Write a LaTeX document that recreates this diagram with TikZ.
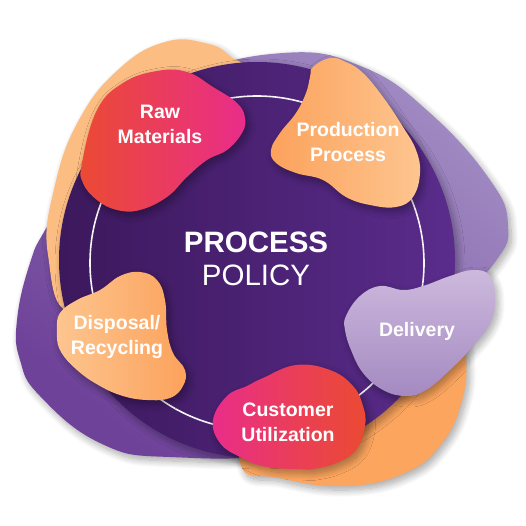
\documentclass[tikz,border=0pt]{standalone}
\usepackage{fontspec}
\setmainfont{Liberation Sans}
\usetikzlibrary{shadows.blur}
\definecolor{bgpurpleA}{HTML}{6E4299}
\definecolor{bgpurpleB}{HTML}{A08AC2}
\definecolor{darkA}{HTML}{3C185C}
\definecolor{darkB}{HTML}{5A2C8C}
\definecolor{peachbg}{HTML}{FCBD82}
\definecolor{orangebg}{HTML}{FCA55E}
\definecolor{redA}{HTML}{EB4A33}
\definecolor{pinkA}{HTML}{E92D8A}
\definecolor{orA}{HTML}{FCA25C}
\definecolor{orB}{HTML}{FDC58F}
\definecolor{lavA}{HTML}{CDB9DD}
\definecolor{lavB}{HTML}{A48AC1}
\tikzset{
  softshadow/.style={blur shadow={shadow xshift=3pt, shadow yshift=-4pt, shadow blur radius=7pt, shadow blur steps=12, shadow opacity=35}},
  blobtext/.style={text=white, align=center, font=\fontsize{19.5}{25}\selectfont\bfseries, inner sep=0pt},
  titletext/.style={text=white, align=center, font=\fontsize{29.5}{33}\selectfont, inner sep=0pt},
  ringline/.style={draw=white!92!gray, line width=1.6pt}
}
\begin{document}
\begin{tikzpicture}[x=1pt,y=-1pt]
\useasboundingbox (0,0) rectangle (526,526);
% back purple blob
\path[softshadow, top color=bgpurpleB, bottom color=bgpurpleA, shading angle=-40]
  plot[smooth cycle, tension=0.75] coordinates {(17,320) (30,263) (48,225) (100,140) (180,80) (283,53) (363,67) (430,113) (490,180) (508,225) (495,262) (440,320) (380,400) (290,450) (170,457) (100,443) (40,396) (20,360)};
% peach blob top-left
\path[softshadow, fill=peachbg]
  plot[smooth cycle, tension=0.75] coordinates {(48,255) (55,185) (80,118) (120,68) (165,42) (205,43) (230,56) (248,80) (240,160) (160,250) (75,312)};
% orange blob bottom-right
\path[softshadow, fill=orangebg]
  plot[smooth cycle, tension=0.75] coordinates {(240,462) (280,478) (345,486) (405,473) (442,443) (462,400) (466,355) (458,300) (420,270) (340,300) (260,380)};
% dark circle
\path[softshadow, left color=darkA, right color=darkB] (257,260) circle[radius=198];
% ring
\draw[ringline] (257,263) circle[radius=167];
% Raw Materials
\path[softshadow, left color=redA, right color=pinkA, middle color=redA!50!pinkA]
  plot[smooth cycle, tension=0.7] coordinates {(82,163) (97,110) (123,83) (157,71) (187,72) (213,87) (237,103) (245,118) (242,133) (227,150) (207,160) (187,177) (167,197) (140,210) (117,210) (97,200) (83,183)};
% Production Process
\path[softshadow, left color=orA, right color=orB]
  plot[smooth cycle, tension=0.7] coordinates {(313,67) (330,58) (346,62) (363,73) (383,97) (403,127) (416,150) (420,173) (413,197) (396,207) (370,205) (346,197) (323,180) (296,173) (276,163) (271,150) (280,133) (296,113) (306,93) (310,77)};
% Delivery
\path[softshadow, top color=lavA, bottom color=lavB]
  plot[smooth cycle, tension=0.7] coordinates {(346,316) (360,296) (380,286) (403,290) (423,286) (450,276) (473,270) (490,276) (495,300) (490,323) (473,346) (450,370) (426,390) (406,396) (383,390) (363,373) (351,350) (345,330)};
% Customer Utilization
\path[softshadow, left color=pinkA, right color=redA, middle color=pinkA!45!redA]
  plot[smooth cycle, tension=0.7] coordinates {(213,420) (227,396) (247,386) (263,378) (296,365) (330,370) (353,386) (363,406) (365,426) (356,450) (336,463) (313,469) (300,469) (267,467) (240,457) (220,443)};
% Disposal / Recycling
\path[softshadow, left color=orB, right color=orA]
  plot[smooth cycle, tension=0.7] coordinates {(57,330) (60,313) (77,300) (100,290) (120,276) (140,272) (157,280) (165,300) (167,330) (173,353) (185,370) (183,386) (170,398) (147,400) (123,396) (100,386) (77,370) (60,350)};
% texts
\node[blobtext] (raw) at (160,124.5) {Raw\\Materials};
\node[blobtext] (prod) at (348,142.5) {Production\\Process};
\node[blobtext, anchor=base] (deliv) at (417,336) {Delivery};
\node[blobtext] (cust) at (288,422) {Customer\\Utilization};
\node[blobtext] (disp) at (117,336.5) {Disposal/\\Recycling};
\node[titletext] (title) at (256,259) {\textbf{PROCESS}\\POLICY};
\end{tikzpicture}
\end{document}
